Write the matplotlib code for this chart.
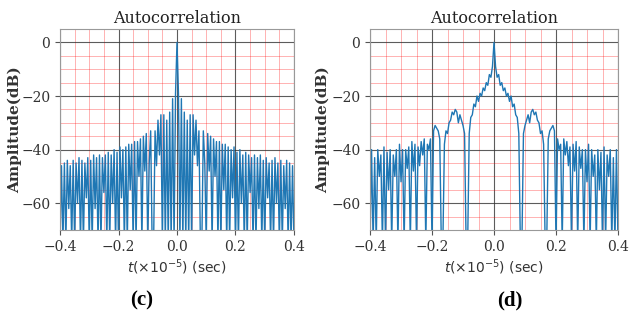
import matplotlib
matplotlib.use("Agg")
import matplotlib.pyplot as plt
import numpy as np
from matplotlib.ticker import MultipleLocator

# half-axis samples (t = 0 ... 0.4, step 0.005), mirrored for negative t
t_half = [i * 0.005 for i in range(81)]

# panel (c): amplitude in dB
amp_c = [
    0, -19, -75, -21, -75, -26, -75, -29, -75, -27,
    -75, -27, -42, -29, -46, -33, -75, -75, -33, -45,
    -75, -34, -48, -35, -75, -36, -50, -37, -75, -37,
    -75, -38, -55, -38, -75, -39, -75, -40, -58, -39,
    -75, -41, -75, -40, -60, -42, -75, -41, -75, -42,
    -56, -43, -75, -42, -75, -43, -62, -42, -75, -44,
    -75, -43, -58, -45, -75, -44, -75, -43, -60, -45,
    -75, -44, -75, -46, -62, -44, -75, -45, -75, -46,
    -75,
]

# panel (d): amplitude in dB
amp_d = [
    0, -9, -13, -12, -16, -15, -18, -17, -20, -19,
    -22, -20, -24, -23, -27, -28, -34, -75, -75, -34,
    -31, -29, -27, -30, -26, -25, -27, -26, -29, -30,
    -34, -33, -38, -75, -75, -36, -33, -32, -31, -33,
    -75, -36, -40, -38, -75, -36, -42, -37, -46, -39,
    -75, -38, -48, -37, -75, -39, -47, -40, -75, -40,
    -52, -38, -75, -40, -50, -42, -75, -40, -55, -41,
    -75, -39, -75, -42, -50, -40, -75, -43, -75, -40,
    -75,
]

panels = [("(c)", amp_c), ("(d)", amp_d)]
axes_pos = [[0.0951, 0.2857, 0.3708, 0.6242], [0.5864, 0.2857, 0.3930, 0.6242]]
label_x = [142 / 631, 510 / 631]

plt.rcParams["mathtext.fontset"] = "dejavusans"
serif = ["DejaVu Serif"]

fig = plt.figure(figsize=(6.31, 3.22), dpi=100)

for k, (tag, amp) in enumerate(panels):
    t_full = [-v for v in t_half[:0:-1]] + t_half
    a_full = amp[:0:-1] + amp
    ax = fig.add_axes(axes_pos[k])
    ax.plot(t_full, a_full, color="#1f77b4", lw=1.0)
    ax.set_xlim(-0.4, 0.4)
    ax.set_ylim(-70, 5)
    ax.xaxis.set_major_locator(MultipleLocator(0.2))
    ax.xaxis.set_minor_locator(MultipleLocator(0.05))
    ax.yaxis.set_major_locator(MultipleLocator(20))
    ax.yaxis.set_minor_locator(MultipleLocator(5))
    ax.grid(which="major", color="#333333", lw=0.8, alpha=0.8)
    ax.grid(which="minor", color="red", lw=0.6, alpha=0.35)
    ax.set_axisbelow(True)
    ax.tick_params(which="minor", length=0)
    ax.tick_params(which="major", length=3.5, color="#555555", labelsize=10,
                   labelcolor="#333333")
    for lab in ax.get_xticklabels() + ax.get_yticklabels():
        lab.set_family(serif)
    for s in ax.spines.values():
        s.set_color("#999999")
        s.set_linewidth(0.8)
    ax.set_title("Autocorrelation", family=serif, fontsize=11.5, color="#222222", pad=4)
    ax.set_ylabel("Amplitude(dB)", family=serif, fontweight="bold", fontsize=11,
                  color="#333333")
    ax.yaxis.set_label_coords(-0.16, 0.5)
    ax.set_xlabel(r"$t(\times10^{-5})$ (sec)", fontsize=10, color="#333333", labelpad=3)
    fig.text(label_x[k], 0.068, tag, family=["Liberation Serif"], fontweight="bold",
             fontsize=15, ha="center", va="center")

fig.savefig("out.png", dpi=100)
